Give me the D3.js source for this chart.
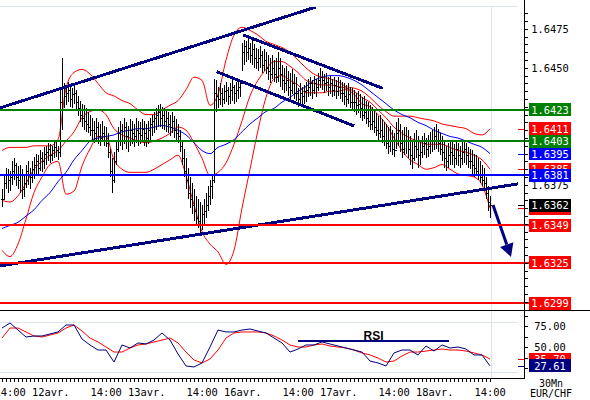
<!DOCTYPE html>
<html><head><meta charset="utf-8">
<script src="https://cdn.jsdelivr.net/npm/d3@7/dist/d3.min.js"></script>
<style>
body{margin:0;background:#fff}
svg{display:block}
text{font-family:"DejaVu Sans Mono",monospace;font-size:10.4px}
</style></head>
<body><svg id="c" width="590" height="400"></svg>
<script>
// ---- DATA (prices stored in pips above BASE: price = BASE + v*PIP) ----
const BASE = 1.63, PIP = 0.0001;
const high = [72,81,86,85,84,90,92,89,87,88,85,82,88,90,86,90,93,95,94,97,96,99,100,102,101,100,103,104,100,136,156,140,138,141,138,137,139,136,132,129,127,126,124,122,120,118,116,118,115,114,116,113,112,108,98,92,96,104,112,116,114,118,115,113,117,116,114,118,116,115,117,116,114,116,118,120,122,124,126,127,125,124,123,122,120,122,119,117,114,110,104,98,92,86,80,76,72,68,66,64,62,66,70,74,78,82,143,142,138,140,137,139,141,138,140,142,139,141,143,142,166,168,167,169,166,168,165,163,162,164,161,162,160,158,156,158,155,156,160,156,152,150,151,148,147,149,146,144,137,140,138,139,141,143,144,142,145,143,147,150,148,146,147,144,145,143,144,142,144,142,141,140,139,140,138,137,136,134,135,133,131,132,129,128,126,125,123,121,119,120,117,115,114,112,113,110,108,115,118,114,110,112,112,110,106,104,108,110,106,104,106,108,105,107,109,110,112,114,111,108,106,103,100,102,104,103,101,104,102,100,103,104,102,99,98,97,95,94,92,90,88,86,80,74,68];
const low = [61,65,72,70,71,75,78,74,72,70,66,67,73,75,72,76,79,82,81,84,83,85,88,90,89,90,92,93,91,93,110,124,126,128,125,124,127,123,119,115,112,110,109,108,106,104,102,104,101,100,103,100,99,92,80,70,76,88,96,100,97,101,98,96,100,101,99,102,100,101,103,100,99,101,104,106,108,110,112,112,111,110,109,108,106,108,105,104,102,96,88,80,72,66,60,56,52,49,47,43,46,50,54,58,62,66,76,122,124,126,125,127,128,126,127,129,127,128,130,131,148,152,154,155,153,152,150,149,148,150,147,148,146,142,140,143,141,140,141,138,136,134,135,132,130,133,130,129,125,127,126,127,128,131,132,130,133,131,135,137,136,134,135,132,133,131,132,130,132,130,128,126,125,127,124,123,122,120,121,118,116,117,114,112,110,110,108,106,104,105,102,100,98,95,96,94,93,98,100,96,92,94,95,92,88,85,90,92,86,88,92,94,92,93,95,96,97,98,96,94,90,86,84,86,88,88,86,88,87,86,88,89,88,86,85,82,80,81,78,76,74,72,66,58,54];
const close = [66,76,82,78,80,84,88,80,78,82,72,76,84,82,80,85,88,90,86,92,90,95,96,98,94,97,99,97,96,128,138,132,134,136,130,133,134,128,124,120,118,116,114,112,110,110,108,112,106,105,108,104,102,96,84,78,90,98,108,110,104,112,106,104,110,108,106,110,108,107,111,108,105,110,114,116,118,120,122,118,120,116,118,114,112,116,110,108,106,100,92,84,78,70,66,62,58,54,52,50,56,58,62,68,74,78,134,132,130,134,130,135,136,132,136,138,134,136,138,140,160,164,160,163,158,162,156,154,156,158,152,155,150,148,146,150,146,144,150,146,142,140,142,138,136,140,134,134,130,134,132,135,136,138,140,136,140,138,142,144,142,140,141,138,140,136,139,135,138,134,134,132,130,133,128,128,128,126,127,124,120,122,118,116,114,116,112,110,108,110,106,104,102,100,104,98,97,108,110,102,98,104,104,98,94,92,100,98,94,96,100,102,98,100,104,104,106,104,102,98,96,92,90,94,96,94,92,98,94,92,96,98,94,90,90,88,86,84,82,80,78,76,70,64,62];
// indicators, one value every 4 bars (pips above BASE)
const SAMPLE = 4;
const bbUpper = [97,99,99,99,100,100,100,104,137,147,149,146,140,134,132,129,127,123,120,120,123,126,129,136,144,142,126,133,155,171,176,174,171,167,165,163,160,155,150,146,144,143,141,138,137,135,131,126,122,119,119,119,118,117,116,114,113,112,111,108,107,111];
const bbMiddle = [65,64,68,76,85,90,94,97,103,109,118,122,123,120,111,107,105,103,102,103,105,108,112,110,102,92,81,83,89,101,116,132,142,149,154,154,151,147,142,140,139,139,138,137,135,131,128,123,118,112,108,105,103,101,101,101,99,97,96,94,91,85];
const bbLower = [33,29,37,53,70,80,88,90,69,71,87,98,106,106,91,85,83,83,83,85,88,91,94,81,62,45,37,32,24,33,60,85,110,131,143,145,142,139,134,134,134,135,135,136,133,127,125,120,114,105,97,91,88,85,86,88,85,82,81,80,75,60];
const maBlue = [47,49,51,55,59,65,70,77,83,91,97,103,105,106,107,109,110,111,111,112,113,112,110,107,102,97,95,99,101,104,109,114,118,122,124,128,131,135,138,142,144,145,145,144,142,139,135,131,127,123,120,118,115,113,110,108,106,105,103,101,99,95];
const rsi = [72.6,78.6,70.2,61.9,63.1,63.1,65.5,67.9,76.2,76.2,59.5,52.4,46.4,46.4,32.1,52.4,48.8,54.8,53.6,58.3,66.7,58.3,41.7,27.4,26.2,31.0,50.0,70.2,67.9,67.9,70.2,71.4,69.0,66.7,60.7,54.8,44.0,47.6,52.4,52.4,56.0,53.6,51.2,48.8,46.4,44.0,33.3,31.0,27.4,42.9,46.4,46.4,40.5,51.2,45.2,52.4,48.8,50.0,47.6,40.5,40.5,27.61];
const rsiSignal = [60.7,72.6,72.6,67.9,63.1,61.9,64.3,66.7,72.6,76.2,69.0,60.7,56.0,50.0,44.0,44.0,48.8,52.4,53.6,56.0,58.3,60.7,54.8,44.0,34.5,31.0,35.7,46.4,60.7,66.7,67.9,67.9,67.9,66.7,63.1,58.3,52.4,50.0,50.0,52.4,53.6,51.2,50.0,48.8,46.4,42.9,40.5,36.9,32.1,33.3,39.3,44.0,44.0,45.2,46.4,47.6,46.4,46.4,45.2,42.9,40.5,35.7];
// horizontal levels (prices)
const levels = [1.6423, 1.6403, 1.6381, 1.6349, 1.6325, 1.6299];
// trend lines: [bar0, price0, bar1, price1]
const trendLines = [[-1,1.64243,157,1.64890],[-1,1.63230,258,1.63756],[120.5,1.64711,190.35,1.64369],[107.35,1.64475,176.15,1.64127]];
const arrowLine = [245.5,1.63621,254.5,1.63288];
const priceTicks = [1.6375,1.6450,1.6475];
const rsiTicks = [50,75];
const rsiGrid = [80,20];
const rsiNote = {text:"RSI", bar0:148, bar1:223.5, value:57.1};
const timeLabels = ["14:00 12avr.","14:00 13avr.","14:00 16avr.","14:00 17avr.","14:00 18avr.","14:00"];
const timeBars = [4,52,100,148,196,244];
const symbolText = ["30Mn","EUR/CHF"];

// ---- DRAWING ----
const P = v => BASE + v*PIP;
const svg = d3.select("#c");
const x = d3.scaleLinear().domain([0,244]).range([2,490]);
const y = d3.scaleLinear().domain([1.62941,1.64890]).range([311,7]);
const yr = d3.scaleLinear().domain([0,100]).range([389,305]);
const RED="#ff0000", GREEN="#008000", BLUE="#0000ff", NAVY="#000080", GRID="#dde5ec";
const levelColors=[GREEN,GREEN,BLUE,RED,RED,RED];

const defs=svg.append("defs");
defs.append("clipPath").attr("id","main").append("rect").attr("x",0).attr("y",7).attr("width",524).attr("height",304);
defs.append("clipPath").attr("id","rsi").append("rect").attr("x",0).attr("y",311).attr("width",524).attr("height",67);

// grid
svg.append("line").attr("x1",0).attr("x2",518).attr("y1",6.5).attr("y2",6.5).attr("stroke",GRID);
svg.append("line").attr("x1",x(244)+1.5).attr("x2",x(244)+1.5).attr("y1",6).attr("y2",378).attr("stroke",GRID);
rsiGrid.forEach(g=>svg.append("line").attr("x1",0).attr("x2",518).attr("y1",Math.round(yr(g))+.5).attr("y2",Math.round(yr(g))+.5).attr("stroke",GRID));

const gm = svg.append("g").attr("clip-path","url(#main)");
const lineGen = arr => d3.line().x((d,k)=>x(k*SAMPLE)).y(d=>y(P(d))).curve(d3.curveMonotoneX)(arr);
[[bbUpper,RED],[bbMiddle,RED],[bbLower,RED],[maBlue,BLUE]].forEach(([a,c])=>{
  gm.append("path").attr("d",lineGen(a)).attr("fill","none").attr("stroke",c).attr("stroke-width",1);
});

// OHLC bars
const bars = gm.append("g").attr("stroke","#000").attr("stroke-width",1).attr("shape-rendering","crispEdges");
close.forEach((c,i)=>{
  const o = i>0?close[i-1]:c;
  const xx = Math.round(x(i))+.5;
  bars.append("path").attr("d",
    `M${xx},${Math.round(y(P(high[i])))}V${Math.round(y(P(low[i])))}`+
    `M${xx-1.5},${Math.round(y(P(o)))+.5}H${xx}`+
    `M${xx},${Math.round(y(P(c)))+.5}H${xx+1.5}`);
});

// levels
levels.forEach((p,k)=>{
  svg.append("line").attr("x1",0).attr("x2",530).attr("y1",y(p)).attr("y2",y(p))
    .attr("stroke",levelColors[k]).attr("stroke-width",2).attr("shape-rendering","crispEdges");
});
// trend lines
trendLines.forEach(t=>{
  gm.append("line").attr("x1",x(t[0])).attr("y1",y(t[1])).attr("x2",x(t[2])).attr("y2",y(t[3]))
    .attr("stroke",NAVY).attr("stroke-width",3).attr("shape-rendering","crispEdges");
});
// arrow
{
  const [b0,p0,b1,p1]=arrowLine;
  const x0=x(b0), y0=y(p0), x1=x(b1), y1=y(p1);
  const ang=Math.atan2(y1-y0,x1-x0);
  const L=13, Wd=7;
  const bx=x1-L*Math.cos(ang), by=y1-L*Math.sin(ang);
  gm.append("line").attr("x1",x0).attr("y1",y0).attr("x2",bx).attr("y2",by).attr("stroke",NAVY).attr("stroke-width",3);
  gm.append("path").attr("d",`M${x1},${y1}L${bx+Wd*Math.sin(ang)},${by-Wd*Math.cos(ang)}L${bx-Wd*Math.sin(ang)},${by+Wd*Math.cos(ang)}Z`).attr("fill",NAVY);
}

// RSI panel
const gr = svg.append("g").attr("clip-path","url(#rsi)");
const rsiLine = arr => d3.line().x((d,k)=>x(k*SAMPLE)).y(d=>yr(d)).curve(d3.curveLinear)(arr);
gr.append("path").attr("d",rsiLine(rsiSignal)).attr("fill","none").attr("stroke",RED);
gr.append("path").attr("d",rsiLine(rsi)).attr("fill","none").attr("stroke",NAVY);
svg.append("line").attr("x1",x(rsiNote.bar0)).attr("x2",x(rsiNote.bar1)).attr("y1",yr(rsiNote.value)).attr("y2",yr(rsiNote.value))
  .attr("stroke",NAVY).attr("stroke-width",2).attr("shape-rendering","crispEdges");
svg.append("text").attr("x",(x(rsiNote.bar0)+x(rsiNote.bar1))/2).attr("y",yr(rsiNote.value)-1.5).attr("text-anchor","middle")
  .style("font-family","'Liberation Sans',Arial,sans-serif").style("font-size","12px").style("font-weight","bold").text(rsiNote.text);

// frame lines
svg.append("line").attr("x1",0).attr("x2",590).attr("y1",310.5).attr("y2",310.5).attr("stroke","#000");
svg.append("line").attr("x1",524.5).attr("x2",524.5).attr("y1",0).attr("y2",379).attr("stroke","#000");
svg.append("line").attr("x1",0).attr("x2",525).attr("y1",378.5).attr("y2",378.5).attr("stroke","#000");

// price axis ticks
const pt = d3.range(1.6295,1.64851,0.0005);
svg.append("g").attr("transform","translate(524,0)")
  .call(d3.axisRight(y).tickValues(pt).tickSize(4).tickFormat(""))
  .call(g=>{g.select(".domain").remove();g.selectAll("line").attr("shape-rendering","crispEdges");});
priceTicks.forEach(p=>svg.append("text").attr("x",550).attr("y",y(p)+4).attr("text-anchor","middle").text(p.toFixed(4)));

// rsi axis
svg.append("g").attr("transform","translate(524,0)")
  .call(d3.axisRight(yr).tickValues(d3.range(25,96,12.5)).tickSize(4).tickFormat(""))
  .call(g=>{g.select(".domain").remove();g.selectAll("line").attr("shape-rendering","crispEdges");});
rsiTicks.forEach(r=>svg.append("text").attr("x",550).attr("y",yr(r)+4).attr("text-anchor","middle").text(r.toFixed(2)));

// time axis
svg.append("g").attr("transform","translate(0,378)")
  .call(d3.axisBottom(x).tickValues(d3.range(0,245,2)).tickSize(4).tickFormat(""))
  .call(g=>{g.select(".domain").remove();g.selectAll("line").attr("shape-rendering","crispEdges");});
timeLabels.forEach((t,k)=>svg.append("text").attr("x",x(timeBars[k])-15.6).attr("y",395.5).text(t));
symbolText.forEach((t,k)=>svg.append("text").attr("x",551).attr("y",387.2+k*9.6).attr("text-anchor","middle").style("font-size","10px").text(t));

// value labels
function tag(py, txt, bg, marker){
  if(marker) svg.append("line").attr("x1",518).attr("x2",524).attr("y1",Math.round(py)+.5).attr("y2",Math.round(py)+.5).attr("stroke",marker);
  svg.append("rect").attr("x",529).attr("y",Math.round(py-6.5)).attr("width",42).attr("height",13).attr("fill",bg);
  if(txt) svg.append("text").attr("x",550).attr("y",Math.round(py)+4).attr("text-anchor","middle").attr("fill","#fff").text(txt);
}
const last = a => a[a.length-1];
tag(y(P(last(bbUpper))), P(last(bbUpper)).toFixed(4), RED, RED);
tag(y(P(last(bbMiddle))), P(last(bbMiddle)).toFixed(4), RED, RED);
tag(y(P(last(bbLower))), null, RED, RED);           // fully hidden under the last-price tag
tag(y(P(last(maBlue))), P(last(maBlue)).toFixed(4), BLUE, BLUE);
levels.forEach((p,k)=>tag(y(p), p.toFixed(4), levelColors[k], null));
tag(y(P(last(close))), P(last(close)).toFixed(4), "#000", "#000");
tag(yr(last(rsiSignal)), last(rsiSignal).toFixed(2), RED, RED);
tag(yr(last(rsi)), last(rsi).toFixed(2), NAVY, NAVY);
</script></body></html>
